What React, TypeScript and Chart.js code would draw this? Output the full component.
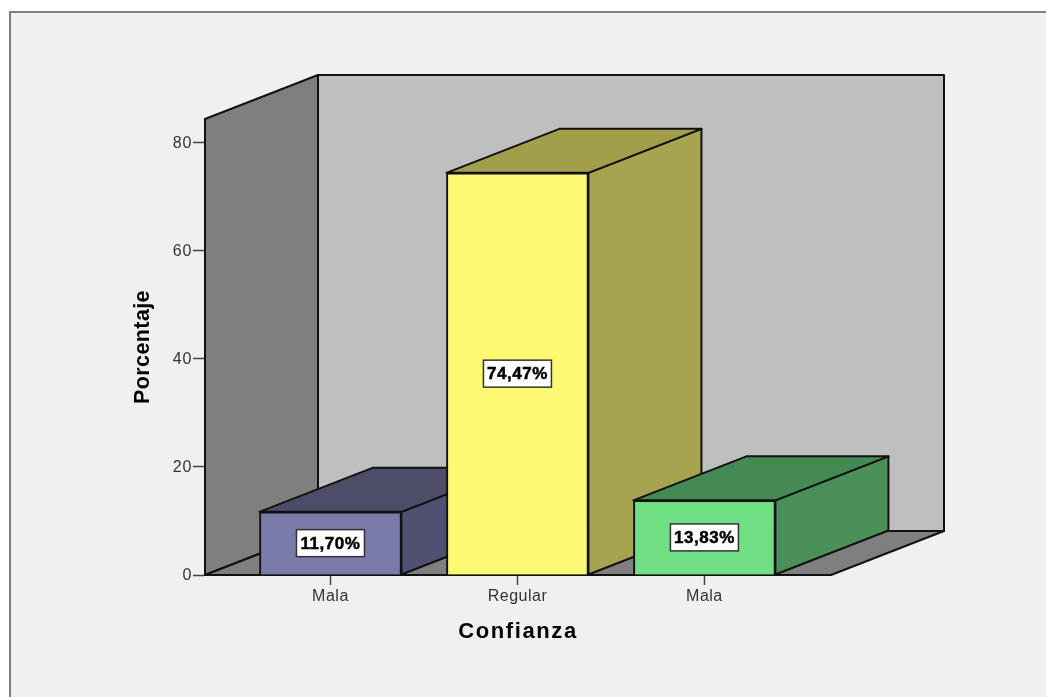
import React, { useEffect, useRef } from "react";
import { Chart, registerables } from "chart.js";

Chart.register(...registerables);

// Confidence survey: share of answers per category
const categories = ["Mala", "Regular", "Mala"];
const percentages = [11.7, 74.47, 13.83];
const percentLabels = ["11,70%", "74,47%", "13,83%"];
const yTicks = [0, 20, 40, 60, 80];

const frontColors = ["#7b7bab", "#fdf872", "#70de82"];
const topColors = ["#4d4d68", "#a29f4a", "#458a55"];
const sideColors = ["#505072", "#a6a44f", "#4a9058"];

const INK = "#111111";
const DEPTH_X = 113;
const DEPTH_Y = -44;

function polygon(ctx: CanvasRenderingContext2D, pts: number[][], fill: string, width = 2) {
  ctx.beginPath();
  pts.forEach(([x, y], i) => (i ? ctx.lineTo(x, y) : ctx.moveTo(x, y)));
  ctx.closePath();
  ctx.fillStyle = fill;
  ctx.fill();
  ctx.lineWidth = width;
  ctx.strokeStyle = INK;
  ctx.lineJoin = "round";
  ctx.stroke();
}

// Runs one of a scale's text-drawing methods with wider letter spacing
function spaceOut(scale: any, method: string, px: number) {
  const flag = `_spaced_${method}`;
  if (scale[flag]) return;
  scale[flag] = true;
  const original = scale[method].bind(scale);
  scale[method] = (...args: any[]) => {
    const ctx = scale.ctx;
    ctx.save();
    ctx.letterSpacing = `${px}px`;
    original(...args);
    ctx.restore();
  };
}

// Page panel and the three faces of the box behind the bars
const roomPlugin = {
  id: "room",
  beforeDraw(chart: any) {
    const { ctx, width, height, chartArea: a } = chart;
    ctx.save();
    ctx.fillStyle = "#ffffff";
    ctx.fillRect(0, 0, width, height);
    ctx.fillStyle = "#808080";
    ctx.fillRect(9, 11, width - 9, height - 11);
    ctx.fillStyle = "#f0f0f0";
    ctx.fillRect(11, 13, width - 11, height - 13);

    const shift = ([x, y]: number[]) => [x + DEPTH_X, y + DEPTH_Y];
    const bl = [a.left, a.bottom];
    const br = [a.right, a.bottom];
    const tl = [a.left, a.top];
    const backTopRight = [a.right + DEPTH_X, a.top + DEPTH_Y];
    polygon(ctx, [shift(tl), backTopRight, shift(br), shift(bl)], "#bfbfbf");
    polygon(ctx, [tl, shift(tl), shift(bl), bl], "#7f7f7f");
    polygon(ctx, [bl, br, shift(br), shift(bl)], "#7f7f7f");
    ctx.restore();
  },
  // Receding faces of each bar; the fronts are painted afterwards by the bar controller
  beforeDatasetsDraw(chart: any) {
    const { ctx } = chart;
    ctx.save();
    chart.getDatasetMeta(0).data.forEach((bar: any, i: number) => {
      const left = bar.x - bar.width / 2;
      const right = bar.x + bar.width / 2;
      const top = bar.y;
      const base = bar.base;
      polygon(
        ctx,
        [[right, top], [right + DEPTH_X, top + DEPTH_Y], [right + DEPTH_X, base + DEPTH_Y], [right, base]],
        sideColors[i],
      );
      polygon(
        ctx,
        [[left, top], [left + DEPTH_X, top + DEPTH_Y], [right + DEPTH_X, top + DEPTH_Y], [right, top]],
        topColors[i],
      );
    });
    ctx.restore();
  },
  // Boxed percentage at the middle of each front face
  afterDatasetsDraw(chart: any) {
    const { ctx } = chart;
    ctx.save();
    ctx.font = 'bold 17px "Liberation Sans", Arial, sans-serif';
    (ctx as any).letterSpacing = "0.5px";
    ctx.textAlign = "center";
    ctx.textBaseline = "middle";
    chart.getDatasetMeta(0).data.forEach((bar: any, i: number) => {
      const cy = (bar.y + bar.base) / 2;
      const w = 68;
      const h = 27;
      ctx.fillStyle = "#ffffff";
      ctx.fillRect(bar.x - w / 2, cy - h / 2, w, h);
      ctx.lineWidth = 1.5;
      ctx.strokeStyle = "#333333";
      ctx.strokeRect(bar.x - w / 2, cy - h / 2, w, h);
      ctx.fillStyle = "#000000";
      ctx.fillText(percentLabels[i], bar.x, cy + 1);
      ctx.lineWidth = 0.5;
      ctx.strokeStyle = "#000000";
      ctx.strokeText(percentLabels[i], bar.x, cy + 1);
    });
    ctx.restore();
  },
};

export default function App() {
  const ref = useRef<HTMLCanvasElement>(null);

  useEffect(() => {
    document.body.style.margin = "0";
    const font = '"Liberation Sans", Arial, sans-serif';
    const chart = new Chart(ref.current!, {
      type: "bar",
      data: {
        datasets: [
          {
            data: percentages.map((y, x) => ({ x, y })),
            backgroundColor: frontColors,
            borderColor: INK,
            borderWidth: 2,
            barThickness: 142,
          },
        ],
      },
      plugins: [roomPlugin],
      options: {
        responsive: false,
        animation: false,
        layout: { padding: { top: 119, right: 215, left: 0, bottom: 0 } },
        plugins: { legend: { display: false }, tooltip: { enabled: false } },
        scales: {
          x: {
            type: "linear",
            offset: false,
            min: -0.671,
            max: 2.677,
            afterFit: (s: any) => {
              s.height = 122;
              spaceOut(s, "drawTitle", 1.6);
              spaceOut(s, "drawLabels", 0.5);
            },
            afterBuildTicks: (s: any) => {
              s.ticks = categories.map((_, value) => ({ value }));
            },
            grid: { offset: false, drawOnChartArea: false, tickLength: 10, tickColor: "#444444", tickWidth: 1.5 },
            border: { color: INK, width: 2 },
            ticks: {
              autoSkip: false,
              maxRotation: 0,
              padding: 2,
              color: "#333333",
              font: { family: font, size: 16 },
              callback: (v: any) => categories[v],
            },
            title: {
              display: true,
              text: "Confianza",
              color: "#000000",
              font: { family: font, size: 22, weight: "bold" },
              padding: { top: 0, bottom: 52 },
            },
          },
          y: {
            min: 0,
            max: 84.44,
            afterFit: (s: any) => {
              s.width = 205;
              spaceOut(s, "drawTitle", 0.4);
              spaceOut(s, "drawLabels", 0.7);
            },
            afterBuildTicks: (s: any) => {
              s.ticks = yTicks.map((value) => ({ value }));
            },
            grid: { drawOnChartArea: false, tickLength: 12, tickColor: "#444444", tickWidth: 1.5 },
            border: { color: INK, width: 2 },
            ticks: { padding: 1, labelOffset: 1, color: "#333333", font: { family: font, size: 16 } },
            title: {
              display: true,
              text: "Porcentaje",
              color: "#000000",
              font: { family: font, size: 21.5, weight: "bold" },
              padding: { top: 130, bottom: 0 },
            },
          },
        },
      },
    } as any);
    return () => chart.destroy();
  }, []);

  return <canvas ref={ref} width={1046} height={697} style={{ display: "block" }} />;
}
